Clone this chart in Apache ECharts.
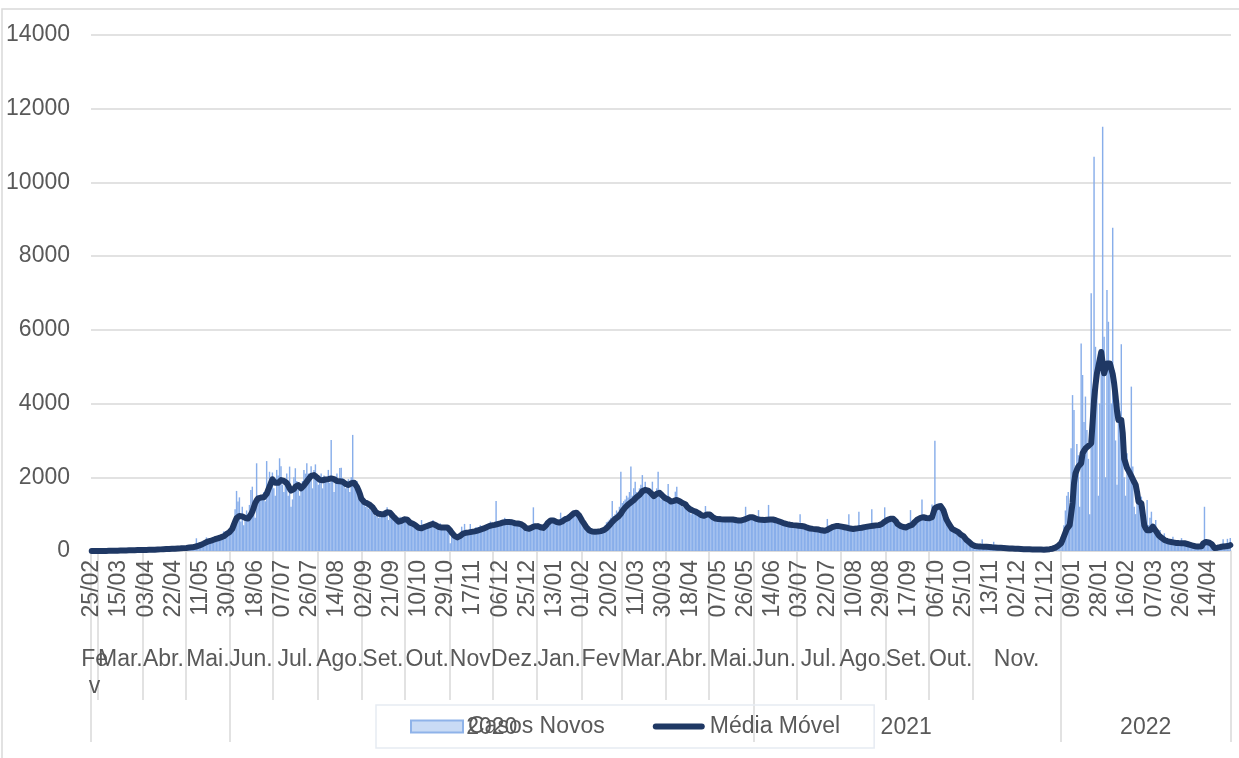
<!DOCTYPE html>
<html>
<head>
<meta charset="utf-8">
<script src="https://cdn.jsdelivr.net/npm/echarts@6/dist/echarts.min.js"></script>
<style>
  html, body { margin: 0; padding: 0; background: #fff; }
  #chart { width: 1239px; height: 758px; }
</style>
</head>
<body>
<div id="chart"></div>
<script>
// primeiro dia da série (25/02/2020), um valor por dia
const dataInicio = [2020, 2, 25];

const casosNovos = [
  0,0,0,1,0,1,2,1,3,2,
  4,3,6,5,8,4,10,9,7,12,
  11,15,13,14,9,18,17,20,22,19,
  25,21,28,18,24,30,26,33,29,22,
  36,31,40,38,28,44,39,45,50,35,
  55,48,60,52,40,66,58,62,70,48,
  75,68,80,60,50,92,85,95,110,70,
  120,140,100,345,150,180,190,210,250,160,
  370,260,300,290,240,330,360,300,340,380,
  420,350,530,525,400,520,540,600,720,800,
  1130,1630,1340,1455,800,1200,700,950,1100,900,
  1250,1655,1745,1100,900,2380,1500,1420,1500,1380,
  1600,1350,2440,1750,2150,1900,2130,1700,1500,2200,
  2050,2515,2300,1800,1600,1900,2100,1500,2290,1200,
  1400,2000,2245,1900,1700,1500,1800,1900,2200,2100,
  2380,2100,2000,2300,1700,2200,2350,2100,1800,2000,
  2100,1700,2050,1900,2000,2200,1850,3010,1900,1600,
  2000,2100,1950,2250,2260,1980,1800,1700,1900,1950,
  1600,2000,3150,1800,1700,1900,1600,1385,1300,1350,
  1250,1200,1250,1150,1300,1100,1050,1200,950,1066,
  900,1000,1050,950,1100,1000,1185,840,1050,1000,
  900,880,850,800,750,930,850,820,900,880,
  930,800,700,750,760,720,650,700,680,640,
  840,600,650,700,720,680,760,740,840,700,
  720,650,680,750,600,700,620,680,640,600,
  210,480,450,380,350,400,420,480,660,500,
  735,480,520,560,735,500,600,560,650,580,
  620,700,600,650,680,700,720,650,800,750,
  720,780,1355,760,780,820,800,850,900,760,
  820,860,780,850,820,760,800,740,820,700,
  780,700,640,580,620,650,640,680,1185,700,
  720,700,650,640,600,700,680,760,820,850,
  860,900,880,820,780,850,760,1040,900,880,
  950,900,980,1000,1020,1050,1100,1080,1100,1000,
  1000,900,850,780,700,620,600,550,520,560,
  500,540,520,560,540,580,600,640,700,780,
  800,850,900,1355,950,1000,1100,1050,1200,2150,
  1300,1350,1400,1500,1450,1600,2290,1500,1700,1880,
  1600,1500,1700,1800,2060,1700,1880,1600,1700,1650,
  1600,1880,1500,1600,1700,2150,1500,1400,1600,1500,
  1400,1500,1820,1300,1400,1350,1400,1610,1745,1300,
  1300,1350,1200,1250,1200,1150,1100,1200,1000,1150,
  1100,1000,1050,1000,950,1000,900,950,1220,950,
  1000,950,900,880,850,900,820,900,850,880,
  900,850,880,820,860,900,850,880,820,860,
  850,800,840,800,850,900,1200,880,950,900,
  980,900,850,880,820,1110,850,800,860,820,
  880,850,1250,850,880,820,860,800,850,780,
  800,760,780,720,740,700,760,720,700,720,
  700,720,680,700,1000,650,700,680,620,640,
  620,600,640,580,600,620,560,600,580,540,
  560,520,540,870,620,600,660,640,700,680,
  700,660,680,640,660,620,640,600,995,600,
  620,580,600,640,620,1066,650,620,680,640,
  660,700,680,640,1130,700,680,720,700,740,
  700,760,800,1185,850,880,900,950,880,900,
  850,700,720,680,700,650,640,620,660,700,
  720,1110,750,800,850,880,900,950,920,1400,
  950,920,900,880,950,900,1265,1000,2990,1200,
  1250,1300,1250,1150,1050,950,850,800,750,700,
  620,600,580,540,520,500,460,420,400,350,
  300,280,240,200,180,160,140,130,150,120,
  110,320,120,110,100,110,100,120,90,250,
  100,90,95,80,90,75,80,70,85,70,
  75,60,70,65,60,55,60,50,55,50,
  50,45,55,40,50,40,45,40,45,35,
  40,35,45,30,40,35,50,45,60,55,
  70,80,100,120,150,200,300,450,700,1100,
  1500,1600,900,2785,4230,3825,2000,2900,2600,1200,
  5630,4775,3500,4190,3280,2500,1000,6990,4200,10700,
  5540,4500,1500,4000,5200,11510,5810,2000,7080,6220,
  5000,4000,8770,4910,3000,1800,4100,3800,5610,3555,
  2000,1500,2650,2300,2000,4460,2290,1200,1000,1800,
  1500,1400,1475,800,1200,600,1385,700,900,1066,
  700,500,840,400,450,570,350,300,480,280,
  270,250,240,230,390,210,200,230,210,200,
  350,200,190,180,170,160,150,140,130,120,
  110,120,130,140,180,250,1200,240,230,220,
  200,150,100,80,90,100,110,130,120,320,
  120,140,330,150,350
];

const mediaMovel = [
  0,0,0,0,1,1,1,2,2,3,
  3,4,5,5,6,7,8,9,10,11,
  12,13,14,15,16,17,18,19,20,21,
  22,23,24,25,26,27,28,29,30,31,
  32,33,34,36,37,39,40,42,44,46,
  48,50,52,54,56,58,60,62,64,66,
  68,70,72,75,78,80,84,88,92,96,
  100,108,116,126,135,150,165,180,200,220,
  240,255,270,280,290,305,320,330,345,360,
  370,385,400,430,460,490,510,540,600,700,
  800,890,930,950,960,940,920,900,890,880,
  920,990,1066,1180,1300,1370,1430,1440,1450,1455,
  1460,1500,1550,1650,1750,1850,1945,1900,1850,1840,
  1850,1890,1925,1910,1900,1870,1845,1780,1700,1640,
  1620,1680,1740,1770,1790,1750,1700,1720,1780,1830,
  1880,1940,1990,2040,2080,2060,2030,2000,1960,1930,
  1910,1920,1930,1940,1945,1950,1960,1970,1970,1950,
  1920,1900,1880,1890,1910,1880,1850,1820,1790,1790,
  1800,1840,1880,1850,1800,1740,1650,1550,1420,1370,
  1330,1310,1295,1270,1250,1220,1180,1120,1060,1030,
  1010,1000,1000,1000,1000,1020,1050,1066,1040,1000,
  950,910,870,830,795,800,820,840,860,860,
  850,810,770,750,740,720,690,660,630,620,
  615,630,650,665,680,695,710,725,735,720,
  700,670,650,645,640,640,640,640,640,620,
  560,500,450,410,380,370,380,410,450,470,
  490,495,500,505,510,518,525,532,540,555,
  570,580,590,605,620,640,660,675,690,695,
  700,710,720,730,740,750,760,775,790,785,
  780,785,790,780,760,755,750,745,740,735,
  720,690,650,620,600,605,620,640,660,670,
  680,675,670,645,620,625,640,700,760,800,
  830,830,830,810,790,780,770,785,800,830,
  860,870,885,920,950,990,1020,1040,1040,1000,
  960,890,820,760,700,640,590,560,540,530,
  525,525,525,527,530,540,550,565,580,615,
  650,700,750,790,830,870,900,925,950,1010,
  1080,1130,1180,1220,1260,1290,1320,1350,1380,1420,
  1460,1490,1520,1570,1620,1640,1660,1650,1640,1610,
  1570,1530,1490,1520,1550,1565,1580,1540,1500,1460,
  1430,1415,1400,1370,1340,1350,1360,1370,1385,1370,
  1350,1325,1300,1285,1270,1210,1160,1140,1120,1100,
  1080,1072,1066,1030,1000,975,950,955,960,990,
  1020,990,960,920,885,878,870,865,860,860,
  860,858,855,852,850,855,860,855,850,840,
  830,825,820,830,840,850,860,880,900,915,
  930,915,900,880,860,855,850,845,840,842,
  845,848,850,855,860,855,850,835,820,808,
  795,778,760,748,735,728,720,712,705,702,
  700,695,690,685,680,680,680,665,650,632,
  615,610,605,600,595,592,590,582,575,562,
  550,548,545,572,600,620,640,655,670,675,
  680,675,670,660,650,645,640,630,620,608,
  595,598,600,608,615,620,625,632,640,648,
  655,662,670,675,680,685,690,695,700,702,
  705,732,760,795,830,845,860,872,885,872,
  860,795,730,705,680,665,650,645,640,660,
  680,692,705,748,790,825,860,880,900,908,
  915,905,895,892,890,905,920,1040,1160,1180,
  1200,1210,1220,1160,1100,980,860,790,720,660,
  600,580,560,540,520,485,450,425,400,350,
  300,270,240,205,170,152,135,130,125,122,
  120,119,118,116,115,111,108,104,100,98,
  95,92,90,88,85,82,80,78,75,72,
  70,68,66,64,62,60,58,56,54,52,
  50,49,48,47,46,45,44,43,42,41,
  40,39,38,37,35,38,42,46,50,56,
  63,70,90,115,140,175,210,300,400,500,
  600,650,700,750,1300,1835,2100,2200,2290,2330,
  2380,2650,2720,2780,2820,2850,2880,2920,3500,4100,
  4500,4820,5000,5200,5400,5100,4820,4950,5090,5100,
  5090,5090,4800,4550,4200,3800,3555,3555,3555,3200,
  2500,2380,2250,2180,2110,2030,1950,1870,1800,1600,
  1340,1320,1295,1000,700,615,560,525,560,610,
  660,610,550,490,430,395,360,330,300,285,
  270,260,250,242,235,225,220,218,215,214,
  212,211,210,200,190,180,168,155,142,130,
  125,122,120,125,130,200,250,245,240,232,
  225,188,150,80,85,90,100,107,113,120,
  125,130,135,140,160
];

// níveis do eixo: meses e anos (início de cada grupo)
const mesesInicio = ['2020-02-25','2020-03-01','2020-04-01','2020-05-01','2020-06-01','2020-07-01',
  '2020-08-01','2020-09-01','2020-10-01','2020-11-01','2020-12-01','2021-01-01','2021-02-01',
  '2021-03-01','2021-04-01','2021-05-01','2021-06-01','2021-07-01','2021-08-01','2021-09-01',
  '2021-10-01','2021-11-01','2022-01-01'];
const mesesNome = ['Fe\nv','Mar.','Abr.','Mai.','Jun.','Jul.','Ago.','Set.','Out.','Nov','Dez.','Jan.',
  'Fev','Mar.','Abr.','Mai.','Jun.','Jul.','Ago.','Set.','Out.','Nov.',''];
const anosInicio = ['2020-02-25','2020-06-01','2021-06-01','2022-01-01'];
const anosNome = ['','2020','2021','2022'];

const T0 = Date.UTC(dataInicio[0], dataInicio[1] - 1, dataInicio[2]);
const N = casosNovos.length;
function idx(s) {
  const p = s.split('-');
  return Math.round((Date.UTC(+p[0], +p[1] - 1, +p[2]) - T0) / 86400000);
}
const dias = [];
for (let i = 0; i < N; i++) {
  const d = new Date(T0 + i * 86400000);
  dias.push(String(d.getUTCDate()).padStart(2, '0') + '/' + String(d.getUTCMonth() + 1).padStart(2, '0'));
}
function grupos(inicios, nomes) {
  const ini = {}, meio = {};
  inicios.forEach(function (s, k) {
    const a = idx(s);
    const b = k + 1 < inicios.length ? idx(inicios[k + 1]) : N;
    ini[a] = true;
    meio[Math.floor((a + b - 1) / 2)] = nomes[k];
  });
  return { ini: ini, meio: meio };
}
const gMes = grupos(mesesInicio, mesesNome);
const gAno = grupos(anosInicio, anosNome);

const cinza = '#595959';
const linhaGrade = '#d9d9d9';
const azulLinha = '#1f3864';
const fonte = 'Liberation Sans, Arial, sans-serif';

const myChart = echarts.init(document.getElementById('chart'));
myChart.setOption({
  animation: false,
  backgroundColor: '#fff',
  textStyle: { fontFamily: fonte },
  graphic: [{
    type: 'rect', silent: true,
    shape: { x: 2, y: 9, width: 1260, height: 780 },
    style: { fill: 'none', stroke: linhaGrade, lineWidth: 1.5 }
  }],
  grid: { left: 91, right: 8, top: 35, bottom: 207, containLabel: false },
  legend: {
    left: 376, top: 705,
    padding: [10, 34],
    itemGap: 48,
    itemWidth: 52, itemHeight: 12,
    borderColor: '#e6ebf2', borderWidth: 1.5,
    textStyle: { color: cinza, fontSize: 23, fontFamily: fonte },
    data: [
      { name: 'Casos Novos', icon: 'rect',
        itemStyle: { color: '#c9dbf5', borderColor: '#8fb3e9', borderWidth: 2 } },
      { name: 'Média Móvel',
        icon: 'path://M0,0 M52,12 M3,3 L49,3 A3,3 0 0 1 49,9 L3,9 A3,3 0 0 1 3,3 Z',
        itemStyle: { color: azulLinha, borderWidth: 0 } }
    ]
  },
  xAxis: [
    {
      type: 'category', data: dias, position: 'bottom',
      axisLine: { lineStyle: { color: linhaGrade, width: 1.5 } },
      axisTick: { show: false },
      axisLabel: { interval: 18, rotate: 90, margin: 9, color: cinza, fontSize: 23, fontFamily: fonte }
    },
    {
      type: 'category', data: dias, position: 'bottom',
      axisLine: { show: false },
      axisTick: {
        show: true, length: 149,
        interval: function (i) { return !!gMes.ini[i]; },
        lineStyle: { color: linhaGrade, width: 1.5 }
      },
      axisLabel: {
        interval: 0, margin: 95, lineHeight: 27,
        color: cinza, fontSize: 23, fontFamily: fonte,
        formatter: function (v, i) { return gMes.meio[i] || ''; }
      }
    },
    {
      type: 'category', data: dias, position: 'bottom', offset: 149,
      axisLine: { show: false },
      axisTick: {
        show: true, length: 42,
        interval: function (i) { return !!gAno.ini[i]; },
        lineStyle: { color: linhaGrade, width: 1.5 }
      },
      axisLabel: {
        interval: 0, margin: 16,
        color: cinza, fontSize: 23, fontFamily: fonte,
        formatter: function (v, i) { return gAno.meio[i] || ''; }
      }
    }
  ],
  yAxis: {
    type: 'value', min: 0, max: 14000, interval: 2000,
    axisLine: { show: false },
    axisTick: { show: false },
    axisLabel: {
      color: cinza, fontSize: 23, margin: 21, fontFamily: fonte,
      formatter: function (v) { return String(v); }
    },
    splitLine: { lineStyle: { color: linhaGrade, width: 1.5 } }
  },
  series: [
    {
      name: 'Casos Novos', type: 'bar', data: casosNovos,
      barCategoryGap: '0%',
      itemStyle: { color: '#88aeea' }
    },
    {
      name: 'Média Móvel', type: 'line', data: mediaMovel,
      symbol: 'none', smooth: false, z: 3,
      lineStyle: { color: azulLinha, width: 6, cap: 'round', join: 'round' },
      itemStyle: { color: azulLinha }
    }
  ]
});
</script>
</body>
</html>
